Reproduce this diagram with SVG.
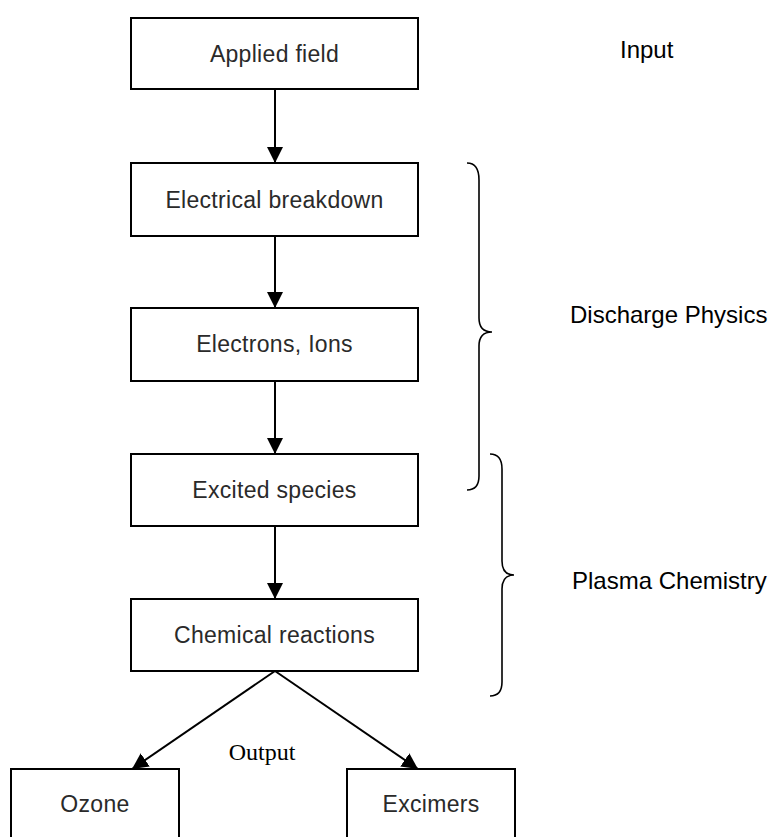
<svg xmlns="http://www.w3.org/2000/svg" width="773" height="837" viewBox="0 0 773 837">
<style>
.box{fill:#fff;stroke:#000;stroke-width:2}
.lbl{font-family:"Liberation Sans",Arial,sans-serif;font-size:23px;fill:#2a2a2a;text-anchor:middle;letter-spacing:0.3px}
.side{font-family:"Liberation Sans",Arial,sans-serif;font-size:24px;fill:#000}
.out{font-family:"Liberation Serif","Times New Roman",serif;font-size:24px;fill:#000;text-anchor:middle}
.conn{stroke:#000;stroke-width:2;fill:none}
.brace{stroke:#000;stroke-width:1.6;fill:none}
</style>
<defs>
<marker id="arr" markerUnits="userSpaceOnUse" viewBox="0 0 16 16" refX="16" refY="8" markerWidth="16" markerHeight="16" orient="auto">
<path d="M0,0 L16,8 L0,16 z" fill="#000"/>
</marker>
</defs>
<rect width="773" height="837" fill="#fff"/>
<g id="connectors">
<line class="conn" x1="275" y1="89" x2="275" y2="163" marker-end="url(#arr)"/>
<line class="conn" x1="275" y1="236" x2="275" y2="308" marker-end="url(#arr)"/>
<line class="conn" x1="275" y1="381" x2="275" y2="454" marker-end="url(#arr)"/>
<line class="conn" x1="275" y1="526" x2="275" y2="599" marker-end="url(#arr)"/>
<line class="conn" x1="275" y1="671" x2="132" y2="769" marker-end="url(#arr)"/>
<line class="conn" x1="275" y1="671" x2="418" y2="769" marker-end="url(#arr)"/>
</g>
<g id="applied-field"><rect class="box" x="131" y="18" width="287" height="71"/><text class="lbl" x="274.5" y="62">Applied field</text></g>
<g id="electrical-breakdown"><rect class="box" x="131" y="163" width="287" height="73"/><text class="lbl" x="274.5" y="208">Electrical breakdown</text></g>
<g id="electrons-ions"><rect class="box" x="131" y="308" width="287" height="73"/><text class="lbl" x="274.5" y="352">Electrons, Ions</text></g>
<g id="excited-species"><rect class="box" x="131" y="454" width="287" height="72"/><text class="lbl" x="274.5" y="498">Excited species</text></g>
<g id="chemical-reactions"><rect class="box" x="131" y="599" width="287" height="72"/><text class="lbl" x="274.5" y="643">Chemical reactions</text></g>
<g id="ozone"><rect class="box" x="11" y="769" width="168" height="70"/><text class="lbl" x="95" y="812">Ozone</text></g>
<g id="excimers"><rect class="box" x="347" y="769" width="168" height="70"/><text class="lbl" x="431" y="812">Excimers</text></g>
<g id="output-label"><text class="out" x="262" y="760">Output</text></g>
<g id="input-label"><text class="side" x="620" y="58">Input</text></g>
<g id="discharge-physics">
<path class="brace" d="M467,163 C475,163 479,168 479,180 L479,318 C479,328 484,332 492,332 C484,332 479,336 479,346 L479,476 C479,486 475,490 467,490"/>
<text class="side" x="570" y="323">Discharge Physics</text>
</g>
<g id="plasma-chemistry">
<path class="brace" d="M490,454 C498,454 502,459 502,469 L502,561 C502,571 507,575 514,575 C507,575 502,579 502,589 L502,682 C502,692 498,696 490,696"/>
<text class="side" x="572" y="589">Plasma Chemistry</text>
</g>
</svg>
